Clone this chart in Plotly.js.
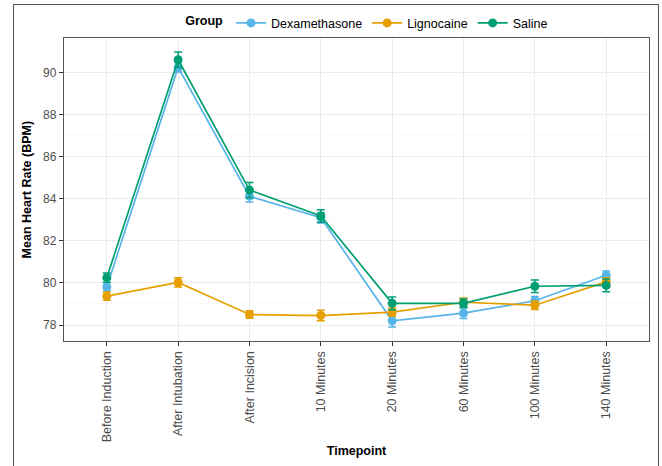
<!DOCTYPE html>
<html>
<head>
<meta charset="utf-8">
<script src="https://cdn.plot.ly/plotly-3.0.1.min.js"></script>
<style>
html,body{margin:0;padding:0;background:#fff;overflow:hidden;}
#wrap{position:relative;width:662px;height:466px;overflow:hidden;}
#chart{position:absolute;left:0;top:0;width:662px;height:466px;z-index:1;}
#frame{position:absolute;left:13px;top:4px;width:644px;height:470px;border:1.5px solid #555;pointer-events:none;z-index:1000;}
</style>
</head>
<body>
<div id="wrap"><div id="chart"></div><div id="frame"></div></div>
<script>
const timepoints = ["Before Induction","After Intubation","After Incision","10 Minutes","20 Minutes","60 Minutes","100 Minutes","140 Minutes"];
const dexMean   = [79.81, 90.24, 84.12, 83.10, 78.20, 78.56, 79.15, 80.36];
const dexSE     = [0.20, 0.22, 0.28, 0.25, 0.30, 0.25, 0.20, 0.20];
const ligMean   = [79.37, 80.02, 78.50, 78.45, 78.61, 79.08, 78.94, 80.05];
const ligSE     = [0.20, 0.22, 0.18, 0.25, 0.20, 0.20, 0.20, 0.20];
const salMean   = [80.25, 90.60, 84.41, 83.18, 79.03, 79.03, 79.84, 79.88];
const salSE     = [0.22, 0.37, 0.36, 0.30, 0.30, 0.20, 0.30, 0.30];
const groups = ["Dexamethasone","Lignocaine","Saline"];
const colors = ["#56B4E9","#E69F00","#009E73"];

const means = [dexMean, ligMean, salMean];
const ses = [dexSE, ligSE, salSE];
const traces = groups.map((g,i)=>({
  type:'scatter', mode:'lines+markers', name:g,
  x: timepoints, y: means[i],
  line:{color:colors[i], width:1.7},
  marker:{color:colors[i], size:9},
  error_y:{type:'data', array:ses[i], visible:true, color:colors[i], thickness:1.5, width:4}
}));

const font = "'Liberation Sans', Arial, Helvetica, sans-serif";
const layout = {
  width:662, height:466,
  margin:{l:64, r:13, t:36, b:125},
  paper_bgcolor:'rgba(0,0,0,0)', plot_bgcolor:'#fff',
  font:{family:font, size:12, color:'#000'},
  showlegend:true,
  legend:{orientation:'h', x:0.52, xanchor:'center', yref:'container', y:0.95, yanchor:'middle',
          bgcolor:'rgba(0,0,0,0)',
          title:{text:'<b>Group</b>', side:'left', font:{size:12.5, color:'#000'}},
          font:{size:12.5, color:'#000'}, itemwidth:30, tracegroupgap:0},
  xaxis:{
    type:'category', range:[-0.6, 7.6],
    tickangle:-90, ticks:'outside', ticklen:4, tickcolor:'#333', tickwidth:1,
    tickfont:{size:12.5, color:'#4d4d4d'},
    showgrid:true, gridcolor:'#ebebeb', gridwidth:1,
    showline:true, linecolor:'#555', linewidth:1.2, mirror:true, zeroline:false,
    automargin:false,
    title:{text:'<b>Timepoint</b>', font:{size:12.5, color:'#000'}, standoff:5}
  },
  yaxis:{
    range:[77.24, 91.62], tickvals:[78,80,82,84,86,88,90],
    ticks:'outside', ticklen:4, tickcolor:'#333', tickwidth:1,
    tickfont:{size:12, color:'#4d4d4d'},
    showgrid:true, gridcolor:'#ebebeb', gridwidth:1,
    minor:{tickvals:[77,79,81,83,85,87,89,91], showgrid:true, gridcolor:'#f5f5f5', gridwidth:0.6, ticks:''},
    showline:true, linecolor:'#555', linewidth:1.2, mirror:true, zeroline:false,
    automargin:false,
    title:{text:'<b>Mean Heart Rate (BPM)</b>', font:{size:12.5, color:'#000'}, standoff:8}
  }
};
Plotly.newPlot('chart', traces, layout, {displayModeBar:false, staticPlot:true});
</script>
</body>
</html>
